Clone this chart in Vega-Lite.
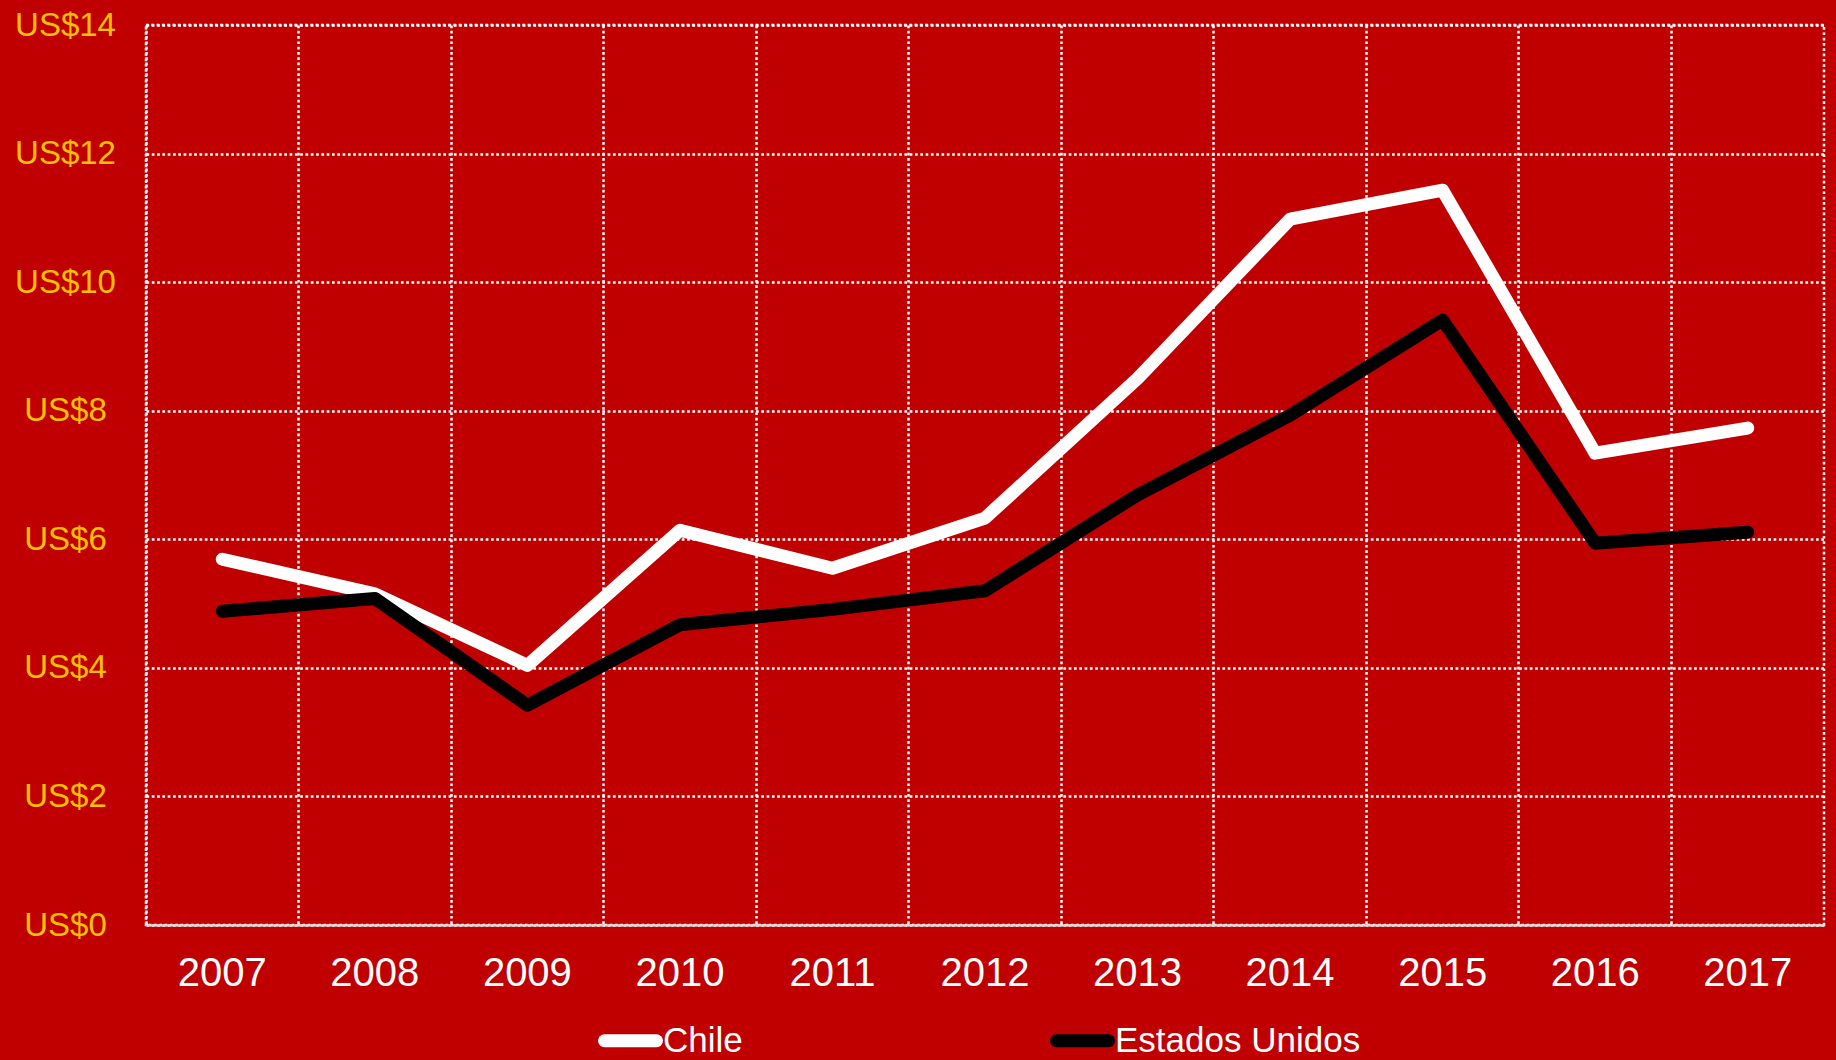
{
  "$schema": "https://vega.github.io/schema/vega-lite/v6.json",
  "width": 1678,
  "height": 900,
  "autosize": {"type": "none"},
  "padding": {"left": 146, "top": 25, "right": 12, "bottom": 135},
  "background": "#C00000",
  "config": {
    "font": "Liberation Sans",
    "view": {"stroke": "#FFFFFF", "strokeWidth": 2.5, "strokeDash": [2.7, 2.6]}
  },
  "data": {
    "values": [
      {"year": "2007", "country": "Chile", "value": 5.69},
      {"year": "2008", "country": "Chile", "value": 5.15},
      {"year": "2009", "country": "Chile", "value": 4.04},
      {"year": "2010", "country": "Chile", "value": 6.14},
      {"year": "2011", "country": "Chile", "value": 5.55},
      {"year": "2012", "country": "Chile", "value": 6.33},
      {"year": "2013", "country": "Chile", "value": 8.5},
      {"year": "2014", "country": "Chile", "value": 10.98},
      {"year": "2015", "country": "Chile", "value": 11.43},
      {"year": "2016", "country": "Chile", "value": 7.34},
      {"year": "2017", "country": "Chile", "value": 7.73},
      {"year": "2007", "country": "Estados Unidos", "value": 4.88},
      {"year": "2008", "country": "Estados Unidos", "value": 5.08},
      {"year": "2009", "country": "Estados Unidos", "value": 3.42},
      {"year": "2010", "country": "Estados Unidos", "value": 4.67},
      {"year": "2011", "country": "Estados Unidos", "value": 4.91},
      {"year": "2012", "country": "Estados Unidos", "value": 5.2},
      {"year": "2013", "country": "Estados Unidos", "value": 6.69},
      {"year": "2014", "country": "Estados Unidos", "value": 7.93},
      {"year": "2015", "country": "Estados Unidos", "value": 9.41},
      {"year": "2016", "country": "Estados Unidos", "value": 5.94},
      {"year": "2017", "country": "Estados Unidos", "value": 6.11}
    ]
  },
  "mark": {"type": "line", "strokeWidth": 13, "strokeCap": "round", "strokeJoin": "round"},
  "encoding": {
    "x": {
      "field": "year",
      "type": "ordinal",
      "bandPosition": 0.5,
      "scale": {"type": "band", "paddingInner": 0, "paddingOuter": 0},
      "axis": {
        "title": null,
        "bandPosition": 0,
        "labelOffset": 0,
        "labelAngle": 0,
        "labelFontSize": 40,
        "labelColor": "#FFFFFF",
        "labelPadding": 28,
        "labelOverlap": false,
        "ticks": false,
        "domainColor": "#D9D9D9",
        "domainWidth": 2,
        "grid": true,
        "gridColor": "#FFFFFF",
        "gridDash": [2.7, 2.6],
        "gridWidth": 2.5
      }
    },
    "y": {
      "field": "value",
      "type": "quantitative",
      "scale": {"domain": [0, 14], "nice": false},
      "axis": {
        "title": null,
        "values": [0, 2, 4, 6, 8, 10, 12, 14],
        "labelExpr": "'US$' + datum.value",
        "domain": false,
        "ticks": false,
        "labelPadding": 81,
        "labelAlign": "center",
        "labelBaseline": "middle",
        "labelFontSize": 33,
        "labelColor": "#FFC000",
        "grid": true,
        "gridColor": "#FFFFFF",
        "gridDash": [2.7, 2.6],
        "gridWidth": 2.5
      }
    },
    "color": {
      "field": "country",
      "type": "nominal",
      "scale": {"domain": ["Chile", "Estados Unidos"], "range": ["#FFFFFF", "#000000"]},
      "legend": {
        "title": null,
        "orient": "none",
        "direction": "horizontal",
        "legendX": 452,
        "legendY": 983,
        "symbolType": "stroke",
        "symbolSize": 2704,
        "symbolStrokeWidth": 13,
        "labelFontSize": 35,
        "labelColor": "#FFFFFF",
        "labelOffset": 0,
        "labelLimit": 500,
        "columnPadding": 287,
        "encode": {"symbols": {"update": {"strokeCap": {"value": "round"}}}}
      }
    }
  }
}
